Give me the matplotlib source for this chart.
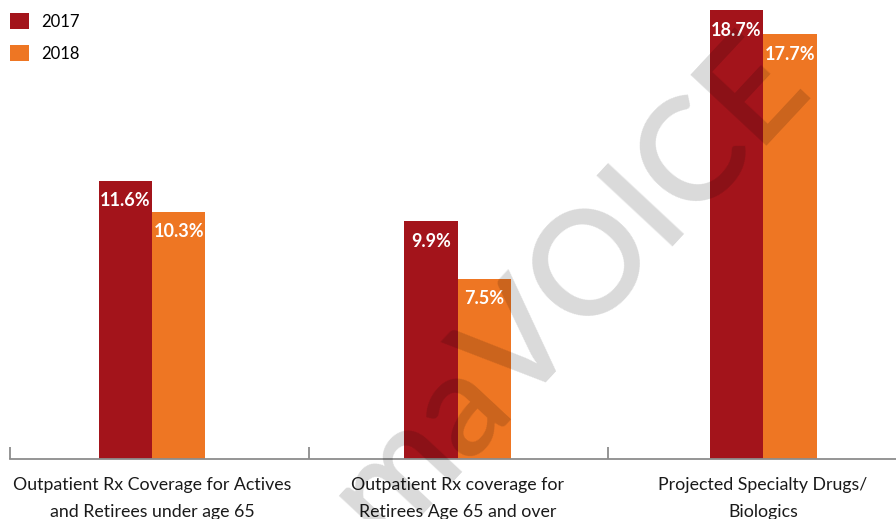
import matplotlib
matplotlib.use("Agg")
import matplotlib.pyplot as plt
import numpy as np

categories = ["Outpatient Rx Coverage for Actives\nand Retirees under age 65",
              "Outpatient Rx coverage for\nRetirees Age 65 and over",
              "Projected Specialty Drugs/\nBiologics"]
series_names = ["2017", "2018"]
values_2017 = [11.6, 9.9, 18.7]
values_2018 = [10.3, 7.5, 17.7]
colors = ["#A3141B", "#EE7623"]

plt.rcParams['font.family'] = ['Lato', 'DejaVu Sans']

W, H = 896, 519
fig = plt.figure(figsize=(W / 100, H / 100), dpi=100)
ax = fig.add_axes([10 / W, (H - 459) / H, 886 / W, 459 / H])

x = np.arange(len(categories))
bw = 0.175
b1 = ax.bar(x - bw / 2, values_2017, bw, color=colors[0], label=series_names[0], zorder=2)
b2 = ax.bar(x + bw / 2, values_2018, bw, color=colors[1], label=series_names[1], zorder=2)

for bars, vals in ((b1, values_2017), (b2, values_2018)):
    for rect, v in zip(bars, vals):
        ax.annotate(f"{v:.1f}%", (rect.get_x() + rect.get_width() / 2, v),
                    xytext=(0, -20), textcoords="offset pixels",
                    ha="center", va="center", color="white",
                    fontsize=13, fontweight="bold", zorder=3)

ax.set_xlim(-0.4648, 2.435)
ax.set_ylim(0, 19.125)

for s in ("top", "right", "left"):
    ax.spines[s].set_visible(False)
ax.spines["bottom"].set_color("#8c8c8c")
ax.spines["bottom"].set_linewidth(1.3)
ax.set_yticks([])
ax.set_xticks(x)
ax.set_xticklabels(categories, fontsize=12.8, color="#1a1a1a", linespacing=1.85)
ax.tick_params(axis="x", which="major", length=0, pad=12.8)
ax.set_xticks([-0.4648, 0.5139, 1.4926], minor=True)
ax.tick_params(axis="x", which="minor", direction="in", length=9,
               color="#8c8c8c", width=1.3)

leg = ax.legend(loc="upper left", frameon=False, fontsize=12,
                handlelength=1.14, handleheight=1.14, handletextpad=0.72,
                labelspacing=0.9, borderpad=0, borderaxespad=0)
leg.set_bbox_to_anchor((10 / W, 1 - 13 / H), transform=fig.transFigure)

fig.text(568 / W, 1 - 288 / H, "maVOICE", rotation=47, fontsize=104,
         fontweight="semibold", color="black", alpha=0.15, ha="center",
         va="center", rotation_mode="anchor", zorder=10)

fig.savefig("out.png", dpi=100)
